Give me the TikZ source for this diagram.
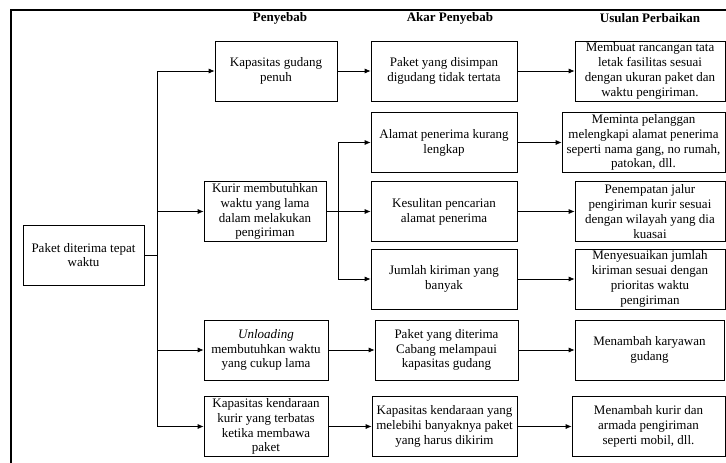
\documentclass[tikz,border=0pt]{standalone}
\usepackage{fontspec}
\setmainfont{Liberation Serif}
\usetikzlibrary{arrows.meta,calc}

\tikzset{
  kotak/.style={draw, line width=0.7pt, align=center, inner sep=1pt,
    minimum height=60pt, minimum width=#1, font=\fontsize{13}{14.8}\selectfont},
  panah/.style={-{Latex[length=6pt,width=5pt]}, line width=0.7pt},
  garis/.style={line width=0.7pt},
  judul/.style={font=\fontsize{13}{15}\selectfont\bfseries}
}

\begin{document}
\begin{tikzpicture}[x=1pt,y=-1pt]
\useasboundingbox (0,0) rectangle (726,463);
\draw [line width=2.5pt] (726,10) -- (11,10) -- (11,463);

% judul kolom
\node [judul] (hPenyebab) at (280,18) {Penyebab};
\node [judul] (hAkar) at (450,18) {Akar Penyebab};
\node [judul] (hUsulan) at (650,18) {Usulan Perbaikan};

% masalah utama
\node [kotak=121] (goal) at (83.5,255) {Paket diterima tepat\\waktu};

% penyebab
\node [kotak=122] (c1) at (276,71) {Kapasitas gudang\\penuh};
\node [kotak=122] (c2) at (265,211.5) {Kurir membutuhkan\\waktu yang lama\\dalam melakukan\\pengiriman};
\node [kotak=124] (c3) at (266,350) {\textit{Unloading}\\membutuhkan waktu\\yang cukup lama};
\node [kotak=124] (c4) at (266,426.5) {Kapasitas kendaraan\\kurir yang terbatas\\ketika membawa\\paket};

% akar penyebab
\node [kotak=146] (r1) at (444,71) {Paket yang disimpan\\digudang tidak tertata};
\node [kotak=146] (r2) at (444,142.5) {Alamat penerima kurang\\lengkap};
\node [kotak=146] (r3) at (444,211.5) {Kesulitan pencarian\\alamat penerima};
\node [kotak=146] (r4) at (444,279) {Jumlah kiriman yang\\banyak};
\node [kotak=143] (r5) at (446.5,350) {Paket yang diterima\\Cabang melampaui\\kapasitas gudang};
\node [kotak=145] (r6) at (444.5,426.5) {Kapasitas kendaraan yang\\melebihi banyaknya paket\\yang harus dikirim};

% usulan perbaikan
\node [kotak=150] (s1) at (650,71) {Membuat rancangan tata\\letak fasilitas sesuai\\dengan ukuran paket dan\\waktu pengiriman.};
\node [kotak=163] (s2) at (643.5,142.5) {Meminta pelanggan\\melengkapi alamat penerima\\seperti nama gang, no rumah,\\patokan, dll.};
\node [kotak=150] (s3) at (650,211.5) {Penempatan jalur\\pengiriman kurir sesuai\\dengan wilayah yang dia\\kuasai};
\node [kotak=150] (s4) at (650,279) {Menyesuaikan jumlah\\kiriman sesuai dengan\\prioritas waktu\\pengiriman};
\node [kotak=149] (s5) at (649.5,350) {Menambah karyawan\\gudang};
\node [kotak=153] (s6) at (648.5,426.5) {Menambah kurir dan\\armada pengiriman\\seperti mobil, dll.};

% cabang dari masalah utama
\coordinate (cabang1) at (157,0);
\draw [garis] (goal.east) -- (goal.east -| cabang1);
\draw [garis] (cabang1 |- c1.west) -- (cabang1 |- c4.west);
\foreach \n in {c1,c2,c3,c4}
  \draw [panah] (cabang1 |- \n.west) -- (\n.west);

% cabang dari kurir
\coordinate (cabang2) at (338,0);
\draw [garis] (c2.east) -- (c2.east -| cabang2);
\draw [garis] (cabang2 |- r2.west) -- (cabang2 |- r4.west);
\foreach \n in {r2,r3,r4}
  \draw [panah] (cabang2 |- \n.west) -- (\n.west);

% penyebab langsung ke akar
\foreach \a/\b in {c1/r1,c3/r5,c4/r6}
  \draw [panah] (\a.east) -- (\a.east -| \b.west);

% akar ke usulan
\foreach \a/\b in {r1/s1,r2/s2,r3/s3,r4/s4,r5/s5,r6/s6}
  \draw [panah] (\a.east) -- (\a.east -| \b.west);
\end{tikzpicture}
\end{document}
